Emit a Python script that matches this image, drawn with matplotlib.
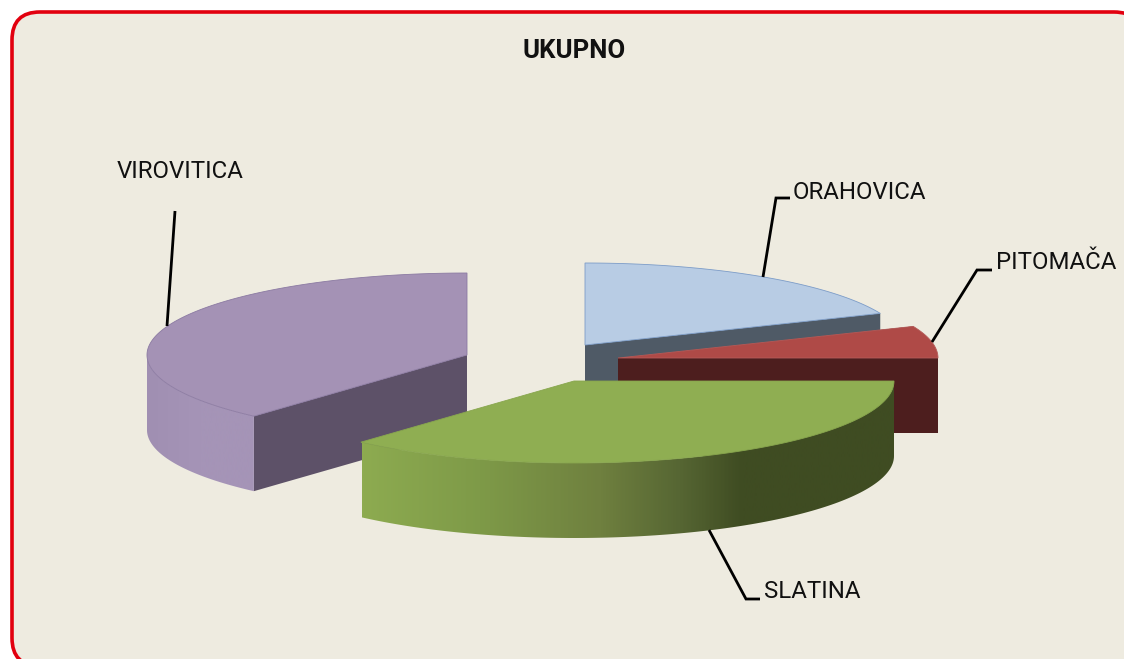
import numpy as np
import matplotlib
matplotlib.use("Agg")
import matplotlib.pyplot as plt
from matplotlib.colors import LinearSegmentedColormap, to_rgb
from matplotlib.patches import FancyBboxPatch, Polygon

title = "UKUPNO"
categories = ["ORAHOVICA", "PITOMAČA", "SLATINA", "VIROVITICA"]
values = [18.7, 6.3, 36.6, 38.4]

# layout of the exploded 3-D pie, in pixels
apex_x = [585, 618, 574, 467]
apex_y = [345, 358, 381, 355]
RX, RY, DEPTH = 320, 82, 75
top_colors = ["#B8CCE4", "#AF4A47", "#8FAE52", "#A492B5"]
edge_colors = ["#7C9CC8", "#B45C5A", "#88A64E", "#8B7AA2"]
face_colors = ["#4F5A66", "#4D1E1E", "#3F4C22", "#5D5168"]
side_stops = {
    2: [(362, "#8DAB50"), (480, "#7E9A48"), (600, "#6F803F"), (680, "#566633"), (743, "#3F4C22"), (894, "#3F4C22")],
    3: [(147, "#A08FB2"), (200, "#A594B7"), (254, "#A594B7")],
}
draw_order = [0, 1, 3, 2]

label_pos = [(793, 192.5), (996, 262.5), (764, 591.5), (117, 171.5)]
leaders = [
    [(790, 198), (776, 198), (763, 277)],
    [(992, 270), (977, 270), (932, 342)],
    [(760, 599), (746, 599), (709, 530)],
    [(175, 211), (167, 326)],
]

FONT = "Roboto"
fig = plt.figure(figsize=(11.24, 6.59), dpi=100, facecolor="white")
ax = fig.add_axes([0, 0, 1, 1])
ax.set_axis_off()

ax.add_patch(FancyBboxPatch((12 + 28, 12 + 28), 1130 - 56, 654 - 56,
                            boxstyle="round,pad=28,rounding_size=28",
                            fc="#EEEBE0", ec="#E2000F", lw=2.6, zorder=1))


def pt(i, deg, dz=0.0):
    t = np.radians(deg)
    return apex_x[i] + RX * np.sin(t), apex_y[i] - RY * np.cos(t) + dz


cum = np.cumsum([0] + values) / sum(values) * 360
z = 2
for i in draw_order:
    a0, a1 = cum[i], cum[i + 1]
    ax_ap = (apex_x[i], apex_y[i])
    # radial cut faces
    for ang in (a0, a1):
        p = pt(i, ang)
        if 0 < ang < 180 or (i == 3 and ang < 270):
            ax.add_patch(Polygon([ax_ap, p, (p[0], p[1] + DEPTH), (ax_ap[0], ax_ap[1] + DEPTH)],
                                 closed=True, fc=face_colors[i], ec="none", zorder=z))
    # outer rim
    s0, s1 = max(a0, 90), min(a1, 270)
    if s1 > s0:
        th = np.linspace(s0, s1, 120)
        upper = [pt(i, t) for t in th]
        lower = [pt(i, t, DEPTH) for t in th[::-1]]
        poly = Polygon(upper + lower, closed=True, fc="none", ec="none", zorder=z)
        ax.add_patch(poly)
        stops = side_stops.get(i)
        if stops:
            xs = [s[0] for s in stops]
            lo, hi = xs[0], xs[-1]
            cmap = LinearSegmentedColormap.from_list(
                "rim", [((x - lo) / (hi - lo), to_rgb(c)) for x, c in stops])
            im = ax.imshow(np.linspace(0, 1, 400)[None, :], cmap=cmap, aspect="auto",
                           extent=(lo, hi, 659, 0), zorder=z, interpolation="bilinear")
            im.set_clip_path(poly)
        else:
            poly.set_facecolor(face_colors[i])
    # top face
    th = np.linspace(a0, a1, 200)
    ax.add_patch(Polygon([ax_ap] + [pt(i, t) for t in th], closed=True,
                         fc=top_colors[i], ec=edge_colors[i], lw=0.6, joinstyle="miter", zorder=z + 0.5))
    z += 1

for line in leaders:
    xs, ys = zip(*line)
    ax.plot(xs, ys, color="black", lw=2.0, solid_joinstyle="miter", solid_capstyle="butt", zorder=20)

for name, (x, y) in zip(categories, label_pos):
    ax.text(x, y, name, ha="left", va="center", fontsize=17.3, family=[FONT, "DejaVu Sans"],
            color="#111111", zorder=21)
ax.text(574, 50.5, title, ha="center", va="center", fontsize=18.5, fontweight="bold",
        family=[FONT, "DejaVu Sans"], color="#111111", zorder=21)

ax.set_xlim(0, 1124)
ax.set_ylim(659, 0)
fig.savefig("out.png", dpi=100, facecolor="white")
